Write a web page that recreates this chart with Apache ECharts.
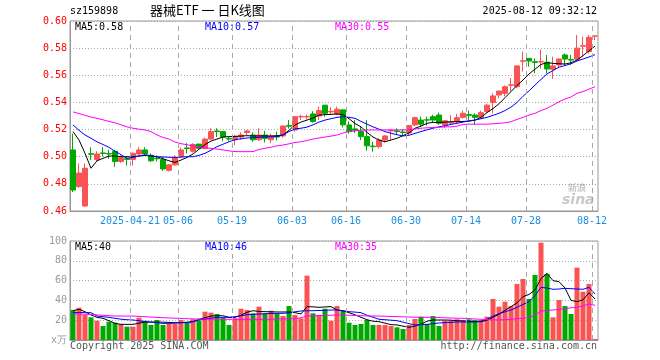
<!DOCTYPE html>
<html><head><meta charset="utf-8">
<script src="https://cdn.jsdelivr.net/npm/echarts@6/dist/echarts.min.js"></script>
<style>html,body{margin:0;padding:0;background:#fff}#c{width:660px;height:360px}</style>
</head><body><div id="c"></div>
<script>
const dates = ['2025-04-07','2025-04-08','2025-04-09','2025-04-10','2025-04-11','2025-04-14','2025-04-15','2025-04-16','2025-04-17','2025-04-18',
'2025-04-21','2025-04-22','2025-04-23','2025-04-24','2025-04-25','2025-04-28','2025-04-29','2025-04-30',
'2025-05-06','2025-05-07','2025-05-08','2025-05-09','2025-05-12','2025-05-13','2025-05-14','2025-05-15','2025-05-16',
'2025-05-19','2025-05-20','2025-05-21','2025-05-22','2025-05-23','2025-05-26','2025-05-27','2025-05-28','2025-05-29','2025-05-30',
'2025-06-03','2025-06-04','2025-06-05','2025-06-06','2025-06-09','2025-06-10','2025-06-11','2025-06-12','2025-06-13',
'2025-06-16','2025-06-17','2025-06-18','2025-06-19','2025-06-20','2025-06-23','2025-06-24','2025-06-25','2025-06-26','2025-06-27',
'2025-06-30','2025-07-01','2025-07-02','2025-07-03','2025-07-04','2025-07-07','2025-07-08','2025-07-09','2025-07-10','2025-07-11',
'2025-07-14','2025-07-15','2025-07-16','2025-07-17','2025-07-18','2025-07-21','2025-07-22','2025-07-23','2025-07-24','2025-07-25',
'2025-07-28','2025-07-29','2025-07-30','2025-07-31','2025-08-01','2025-08-04','2025-08-05','2025-08-06','2025-08-07','2025-08-08',
'2025-08-11','2025-08-12'];
const opens = [0.505,0.478,0.4637,0.5022,0.498,0.5028,0.5024,0.504,0.4965,0.4985,
0.498,0.502,0.505,0.501,0.499,0.498,0.490,0.494,0.500,0.5065,
0.504,0.5093,0.506,0.513,0.519,0.5185,0.5135,0.5125,0.5145,0.5178,
0.516,0.5125,0.516,0.5125,0.515,0.5153,0.523,0.5197,0.5293,0.5293,
0.5315,0.530,0.538,0.533,0.5315,0.5345,0.5234,0.5205,0.5185,0.5148,
0.5078,0.5074,0.5123,0.519,0.519,0.5182,0.5175,0.5234,0.527,0.5272,
0.5295,0.5307,0.5234,0.5248,0.5258,0.529,0.531,0.5307,0.529,0.5333,
0.540,0.5455,0.5467,0.5527,0.5516,0.5703,0.5725,0.570,0.5698,0.5696,
0.5644,0.5676,0.575,0.5716,0.5718,0.5814,0.5775,0.5888];
const closes = [0.4755,0.488,0.4915,0.5018,0.502,0.5024,0.502,0.4965,0.4993,0.498,
0.5025,0.505,0.502,0.497,0.4985,0.491,0.494,0.4995,0.505,0.506,
0.509,0.5062,0.513,0.5185,0.5185,0.5145,0.513,0.5148,0.516,0.519,
0.5125,0.516,0.5135,0.515,0.5145,0.5226,0.5225,0.5295,0.5297,0.5297,
0.526,0.534,0.532,0.5335,0.535,0.5235,0.5185,0.5195,0.5148,0.508,
0.5074,0.5123,0.5153,0.5195,0.5185,0.5178,0.523,0.5288,0.524,0.527,
0.527,0.5246,0.5265,0.5252,0.5288,0.532,0.5305,0.529,0.5325,0.538,
0.5448,0.5484,0.5516,0.553,0.5669,0.5707,0.5705,0.5695,0.5702,0.5647,
0.5669,0.572,0.572,0.5712,0.580,0.5818,0.588,0.589];
const lows = [0.474,0.477,0.463,0.4975,0.4965,0.500,0.4985,0.4925,0.4955,0.4935,
0.4935,0.501,0.5005,0.496,0.4965,0.4895,0.489,0.4932,0.4995,0.5025,
0.503,0.5055,0.5055,0.5125,0.5145,0.5115,0.5115,0.5085,0.5125,0.516,
0.511,0.5115,0.5105,0.510,0.512,0.514,0.5207,0.5185,0.527,0.5275,
0.525,0.527,0.5295,0.531,0.5305,0.5215,0.517,0.5175,0.5123,0.5045,
0.5037,0.506,0.5105,0.5123,0.516,0.5155,0.516,0.5225,0.522,0.523,
0.5255,0.5235,0.521,0.5235,0.5245,0.528,0.527,0.5235,0.528,0.532,
0.532,0.543,0.5445,0.548,0.5505,0.5627,0.5664,0.5615,0.565,0.5614,
0.5573,0.5655,0.5676,0.5676,0.5713,0.5735,0.576,0.586];
const highs = [0.517,0.495,0.495,0.507,0.504,0.507,0.505,0.505,0.501,0.500,
0.503,0.507,0.507,0.5025,0.501,0.500,0.4945,0.501,0.507,0.510,
0.510,0.5095,0.514,0.521,0.521,0.519,0.5145,0.516,0.518,0.5197,
0.518,0.521,0.519,0.517,0.5185,0.523,0.527,0.530,0.531,0.531,
0.5335,0.537,0.538,0.5365,0.537,0.535,0.526,0.527,0.522,0.527,
0.511,0.5136,0.516,0.5203,0.521,0.5205,0.5235,0.5295,0.5295,0.5295,
0.531,0.5325,0.527,0.5305,0.5315,0.534,0.534,0.532,0.534,0.539,
0.5467,0.5484,0.5525,0.558,0.5675,0.5775,0.5725,0.5725,0.579,0.575,
0.5737,0.5725,0.576,0.575,0.5897,0.5885,0.5897,0.589];
const volumes = [30.3,32.6,25.3,22.9,19.5,14.1,18.5,17.5,16.2,13.5,
13.5,22.5,19.5,15.2,20.2,15.2,16.2,16.2,20.2,17.5,
20.9,19.5,28.6,27.6,26.3,22.5,15.2,22,31.6,30.3,
26.9,33.7,26.9,29.6,26.3,24.2,34.3,25.3,21.9,65.0,
26.9,25.3,31.6,19.5,34.3,29.3,17.5,15.2,16.2,20.2,
15.2,15.2,15.2,14.1,12.8,11.1,15.2,21.2,23.6,16.2,
24.2,14.1,19.5,19.5,20.9,20.2,20.9,20.2,20.2,23.6,
41.4,33.7,38.7,34.3,56.6,61.6,41.4,65.7,98.3,66.7,
22.9,40.4,34.3,26.3,73.1,48.8,56.6,1.1];
const ma5 = [0.5185,0.5123,0.5025,0.4915,0.497,0.4988,0.5005,0.5005,0.5,0.5,
0.5,0.5005,0.501,0.5005,0.5,0.4985,0.497,0.4958,0.4975,0.4995,
0.502,0.5055,0.509,0.5115,0.513,0.5145,0.5148,0.515,0.5152,0.5155,
0.5153,0.5153,0.5153,0.5153,0.5155,0.516,0.5195,0.5234,0.5255,0.527,
0.5285,0.5307,0.531,0.5312,0.5315,0.531,0.528,0.5245,0.522,0.518,
0.5145,0.5123,0.511,0.5123,0.5136,0.5155,0.5175,0.521,0.5225,0.5246,
0.5253,0.5253,0.5255,0.5258,0.5258,0.526,0.5262,0.527,0.529,0.5325,
0.5355,0.539,0.5435,0.548,0.5525,0.5565,0.561,0.5645,0.568,0.5693,
0.5688,0.5685,0.5683,0.5692,0.5712,0.5745,0.578,0.5815];
const ma10 = [0.5234,0.5195,0.516,0.5136,0.511,0.509,0.5069,0.504,0.5015,0.4988,
0.4995,0.5005,0.5013,0.5008,0.5,0.4998,0.4996,0.4995,0.4997,0.5,
0.5,0.501,0.5025,0.5048,0.5074,0.5092,0.511,0.5125,0.5132,0.5138,
0.514,0.5143,0.5145,0.5147,0.5148,0.516,0.5185,0.5205,0.521,0.5218,
0.5235,0.5255,0.527,0.528,0.529,0.5295,0.529,0.5283,0.526,0.524,
0.522,0.5203,0.5185,0.5173,0.5162,0.5153,0.5158,0.5172,0.5185,0.5198,
0.521,0.522,0.5228,0.5238,0.5246,0.5255,0.5265,0.527,0.528,0.529,
0.5305,0.532,0.534,0.5365,0.54,0.5445,0.5485,0.5528,0.557,0.561,
0.5635,0.566,0.5672,0.5685,0.5705,0.572,0.5735,0.5752];
const ma30 = [0.533,0.5318,0.5305,0.5292,0.5283,0.5272,0.526,0.525,0.5235,0.522,
0.521,0.5203,0.5197,0.5185,0.516,0.5142,0.513,0.5108,0.5096,0.5088,
0.508,0.5072,0.5066,0.5062,0.5056,0.505,0.5043,0.5038,0.5037,0.5037,
0.5038,0.5053,0.5062,0.507,0.508,0.5086,0.5095,0.5105,0.511,0.512,
0.513,0.5138,0.5145,0.5152,0.516,0.5175,0.5185,0.519,0.5195,0.5197,
0.5197,0.5197,0.5197,0.5197,0.5197,0.5197,0.52,0.5205,0.521,0.5213,
0.5215,0.5217,0.522,0.522,0.5225,0.5238,0.524,0.524,0.524,0.524,
0.5243,0.5246,0.525,0.5258,0.5275,0.529,0.5307,0.532,0.534,0.5357,
0.538,0.5405,0.5425,0.544,0.5467,0.548,0.5498,0.5516];
const vma5 = [29.6,31,28.6,25.3,22.9,21.9,19.5,16.8,15.8,15.8,
15.8,17,18.2,18.2,18,18,17.8,17.5,17.5,18,
18.5,20.9,22.5,24.2,24.5,24.5,22.9,22.9,25,28,
29.6,28.8,28.6,28.5,28.3,28.3,28.3,27.6,26.3,33.7,
33.5,33,33.4,33.7,30.3,29.5,27.6,25.5,22.9,20.5,
19,18.5,17,15.5,15.2,14,12.8,14,16,19,
20.2,20.2,20.2,20,19.5,19.2,19,18.5,18.5,20,
22.9,26,30,33.7,37.5,43.8,46,50.5,62,67.3,
60,58.9,52.5,40,38.7,40.5,47.8,41.4];
const vma10 = [27.6,27.8,27.6,27.6,24.2,23.5,22.9,21.9,21,20.5,
20.2,19.5,18.5,18,17.5,16.8,16.8,17,17.5,17.5,
18.5,20.2,21,22,22.9,22.9,22.9,23.5,24.5,25.5,
25.9,26.2,26.5,26.8,26.9,26.9,27.5,28.5,29.3,29.5,
29.6,29.8,30,30.3,30.3,29.5,28.6,28.2,27.6,25,
23,20.9,20.5,20,19.5,18,16.5,15.2,15.5,15.8,
16.5,17.2,17.5,17.8,18.2,18.2,18.2,18.2,19,21,
24.2,26.5,28.5,30.3,33,36,38.7,45,53.2,52.5,
51.2,51.5,52.2,51.8,51.5,51.2,53.2,46.5];
const vma30 = [26.3,26.3,26,25.8,25.3,25,24.5,24.2,24.2,24.2,
24.2,23.8,23.5,23.2,22.8,22.5,22.3,22,21.8,21.5,
21.3,21.2,21.1,21,21,21,20.9,20.9,20.9,20.9,
20.9,20.9,20.9,21,21.2,21.3,21.4,21.5,22.5,24.2,
24.4,24.6,24.8,25,25.3,25.2,25,24.8,24.5,24.3,
24.2,24.2,24,23.8,23.6,23.4,23.2,23,22.9,22.9,
22.8,22.6,22.4,22.2,22,21.9,21.6,21.2,20.9,20.6,
20.3,20.3,20.5,21,21.5,22,22.9,25,29.3,29.8,
30.3,31,31.8,32.5,33,34.5,36.4,35];
const labelIdx = [10,18,27,37,46,56,66,76,87];
const priceLegend = ['MA5:0.58','MA10:0.57','MA30:0.55'];
const volLegend = ['MA5:40','MA10:46','MA30:35'];
const maColors = ['#000000','#0000ff','#ff00ff'];
const headerLeft = 'sz159898';
const headerTitle = '器械ETF 一 日K线图';
const headerTime = '2025-08-12 09:32:12';

const UP = '#fa5353', DOWN = '#00a800';
const MONO = '"DejaVu Sans Mono", "Liberation Mono", monospace';
const GRIDC = '#a8a8a8';

const kData = dates.map((d,i)=>[opens[i],closes[i],lows[i],highs[i]]);
const vData = volumes.map((v,i)=>({value:v,itemStyle:{color: closes[i]>=opens[i]?UP:DOWN}}));

const chart = echarts.init(document.getElementById('c'), null, {renderer:'canvas'});
const xCat = (g)=>({
  type:'category', gridIndex:g, data:dates, boundaryGap:true,
  axisLine:{show:true,lineStyle:{color:'#999'}}, axisTick:{show:false},
  axisLabel:{show:false}, splitLine:{show:false}
});
// band-edge axis: band i spans [i, i+1]; labels sit on the left edge of labelled days
const xEdge = (g,showLabel)=>({
  type:'value', gridIndex:g, min:0, max:dates.length, position:'bottom',
  axisLine:{show:false}, axisTick:{show:false},
  axisLabel:{show:showLabel, customValues:labelIdx,
    formatter:(v)=> v===labelIdx[0] ? dates[v] : dates[v].slice(5),
    color:'#1a8ee0',fontFamily:MONO,fontSize:10,margin:5},
  splitLine:{show:false}
});
const vGrid = (xi,yi)=>({type:'line',xAxisIndex:xi,yAxisIndex:yi,data:[],silent:true,z:1,
  markLine:{silent:true,symbol:['none','none'],label:{show:false},animation:false,
    lineStyle:{color:GRIDC,type:[5,4],width:1},
    data:labelIdx.map(v=>({xAxis:v}))}});
const line = (name,data,color,xi,yi)=>({name,type:'line',data,xAxisIndex:xi,yAxisIndex:yi,symbol:'none',
  lineStyle:{color,width:1},itemStyle:{color},silent:true,z:3});

chart.setOption({
  animation:false,
  backgroundColor:'#fff',
  grid:[
    {left:70,top:21,width:528,height:190,show:true,borderColor:'#999',borderWidth:1},
    {left:70,top:241,width:528,height:99,show:true,borderColor:'#999',borderWidth:1}
  ],
  xAxis:[ xCat(0), xCat(1), xEdge(0,true), xEdge(1,false) ],
  yAxis:[
    {type:'value',gridIndex:0,min:0.46,max:0.60,interval:0.02,
      axisLine:{show:true,lineStyle:{color:'#999'}},axisTick:{show:false},
      axisLabel:{color:'#ff0000',fontFamily:MONO,fontSize:10,margin:3,formatter:(v)=>v.toFixed(2)},
      splitLine:{show:true,lineStyle:{color:GRIDC,type:[1,2]}}},
    {type:'value',gridIndex:1,min:0,max:100,interval:20,
      axisLine:{show:true,lineStyle:{color:'#999'}},axisTick:{show:false},
      axisLabel:{color:'#999',fontFamily:MONO,fontSize:10,margin:3,formatter:(v)=> v===0?'x万':String(v)},
      splitLine:{show:true,lineStyle:{color:GRIDC,type:[1,2]}}}
  ],
  series:[
    vGrid(2,0),
    vGrid(3,1),
    {type:'candlestick',xAxisIndex:0,yAxisIndex:0,data:kData,barWidth:5,
      itemStyle:{color:UP,color0:DOWN,borderColor:UP,borderColor0:DOWN,borderWidth:1},z:2},
    line('MA5',ma5,maColors[0],0,0),
    line('MA10',ma10,maColors[1],0,0),
    line('MA30',ma30,maColors[2],0,0),
    {type:'bar',xAxisIndex:1,yAxisIndex:1,data:vData,barWidth:5,z:2},
    line('VMA5',vma5,maColors[0],1,1),
    line('VMA10',vma10,maColors[1],1,1),
    line('VMA30',vma30,maColors[2],1,1)
  ],
  graphic:[
    {type:'text',left:70,top:6,style:{text:headerLeft,fill:'#000',font:'10px '+MONO}},
    {type:'text',left:150,top:4,style:{text:headerTitle,fill:'#000',font:'13px "Noto Sans CJK SC", '+MONO}},
    {type:'text',right:63,top:6,style:{text:headerTime,fill:'#000',font:'10px '+MONO}},
    {type:'text',left:75,top:22,style:{text:priceLegend[0],fill:maColors[0],font:'10px '+MONO}},
    {type:'text',left:205,top:22,style:{text:priceLegend[1],fill:maColors[1],font:'10px '+MONO}},
    {type:'text',left:335,top:22,style:{text:priceLegend[2],fill:maColors[2],font:'10px '+MONO}},
    {type:'text',left:75,top:242,style:{text:volLegend[0],fill:maColors[0],font:'10px '+MONO}},
    {type:'text',left:205,top:242,style:{text:volLegend[1],fill:maColors[1],font:'10px '+MONO}},
    {type:'text',left:335,top:242,style:{text:volLegend[2],fill:maColors[2],font:'10px '+MONO}},
    {type:'text',left:70,top:341,style:{text:'Copyright 2025 SINA.COM',fill:'#555',font:'10px '+MONO}},
    {type:'text',right:63,top:341,style:{text:'http://finance.sina.com.cn',fill:'#555',font:'10px '+MONO}},
    {type:'text',left:568,top:183,style:{text:'新浪',fill:'#c8c8c8',font:'bold 9px "Noto Sans CJK SC"'}},
    {type:'text',left:562,top:193,style:{text:'sina',fill:'#c8c8c8',font:'italic bold 14px "DejaVu Sans"'}}
  ]
});
</script></body></html>
